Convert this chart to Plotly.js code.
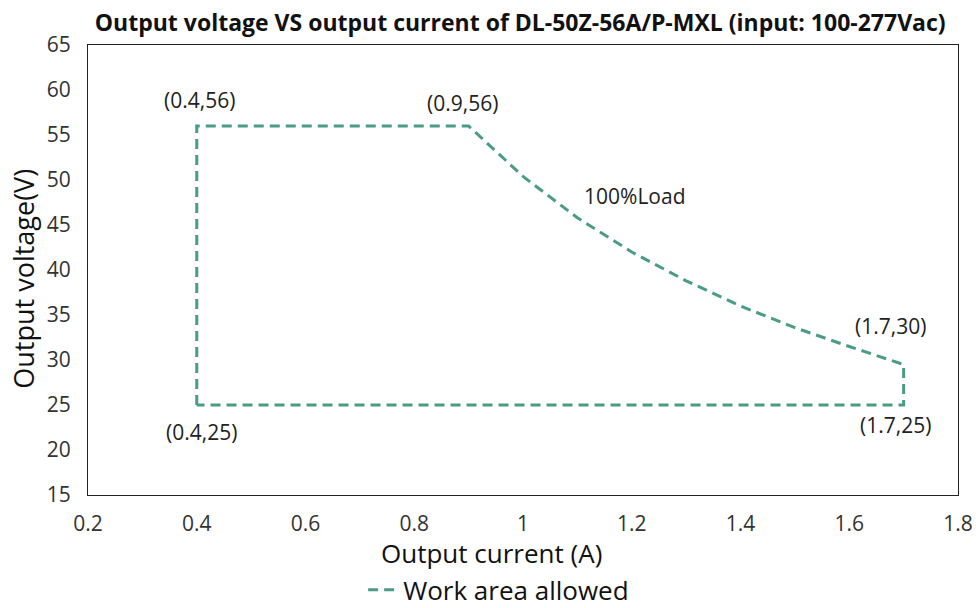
<!DOCTYPE html>
<html><head><meta charset="utf-8">
<script src="https://cdn.plot.ly/plotly-3.0.1.min.js"></script>
<style>body{margin:0;background:#fff}#c{width:976px;height:608px}</style>
</head><body><div id="c"></div>
<script>
const currentA = [0.4, 0.4, 0.9, 1.0, 1.1, 1.2, 1.3, 1.4, 1.5, 1.6, 1.7, 1.7, 0.4];
const voltageV = [25, 56, 56, 50.4, 45.8, 42.0, 38.8, 36.0, 33.6, 31.5, 29.5, 25, 25];
const seriesName = "Work area allowed";
const labelTexts = ["(0.4,56)", "(0.9,56)", "100%Load", "(1.7,30)", "(0.4,25)", "(1.7,25)"];
const labelX = [0.405, 0.889, 1.206, 1.676, 0.408, 1.685];
const labelY = [58.9, 58.6, 48.2, 33.8, 22.0, 22.8];
const xTitle = "Output current (A)";
const yTitle = "Output voltage(V)";

const font = "'Open Sans','Noto Sans',sans-serif";
const trace = {
  x: currentA, y: voltageV, type: 'scatter', mode: 'lines', name: seriesName,
  line: {color: '#4a9c82', width: 3, dash: '10px,6px'}, showlegend: true
};
const annotations = labelTexts.map((t, i) => ({
  x: labelX[i], y: labelY[i], xref: 'x', yref: 'y', text: t, showarrow: false,
  font: {family: font, size: 21, color: '#222'}
}));
annotations.push({x: 0.464, y: -0.129, xref: 'paper', yref: 'paper', text: xTitle,
  showarrow: false, xanchor: 'center', yanchor: 'middle',
  font: {family: font, size: 26, color: '#111'}});
annotations.push({x: -0.075, y: 0.48, xref: 'paper', yref: 'paper', text: yTitle,
  showarrow: false, textangle: -90, xanchor: 'center', yanchor: 'middle',
  font: {family: font, size: 27, color: '#111'}});
const layout = {
  width: 976, height: 608,
  margin: {l: 88, r: 18, t: 45, b: 113, autoexpand: false},
  paper_bgcolor: '#fff', plot_bgcolor: '#fff',
  title: {text: '<b>Output voltage VS output current of DL-50Z-56A/P-MXL (input: 100-277Vac)</b>',
    x: 0.533, xanchor: 'center', y: 0.962, yanchor: 'middle',
    font: {family: font, size: 23, color: '#111'}},
  xaxis: {range: [0.2, 1.8], dtick: 0.2, tick0: 0.2, showgrid: false, zeroline: false,
    showline: true, mirror: true, linecolor: '#222', linewidth: 1, ticks: '',
    ticklabelstandoff: 10,
    tickfont: {family: font, size: 21, color: '#333'}},
  yaxis: {range: [15, 65], dtick: 5, showgrid: false, zeroline: false,
    showline: true, mirror: true, linecolor: '#222', linewidth: 1, ticks: '',
    ticklabelstandoff: 12,
    tickfont: {family: font, size: 21, color: '#333'}},
  legend: {orientation: 'h', x: 0.472, xanchor: 'center', y: -0.211, yanchor: 'middle',
    font: {family: font, size: 26, color: '#111'}, itemwidth: 30},
  annotations: annotations
};
Plotly.newPlot('c', [trace], layout, {staticPlot: true});
</script></body></html>
